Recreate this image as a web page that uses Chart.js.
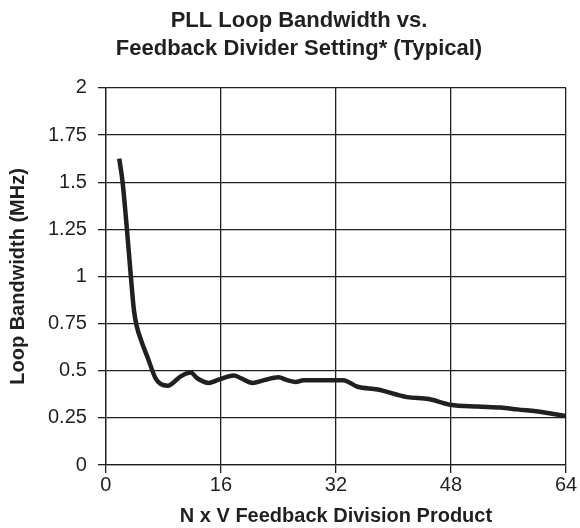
<!DOCTYPE html>
<html>
<head>
<meta charset="utf-8">
<script src="https://cdn.jsdelivr.net/npm/chart.js@4"></script>
<style>
  html, body { margin: 0; padding: 0; background: #fff; }
  #wrap { width: 580px; height: 528px; }
</style>
</head>
<body>
<div id="wrap"><canvas id="bwChart"></canvas></div>
<script>
// =========================
// DATA
// =========================
const divProduct = [1.85, 2.32, 2.92, 3.47, 3.9, 4.26, 5.0, 5.8, 6.9, 7.6, 8.6, 10.4, 11.8, 12.7, 14.3, 15.5, 17.8, 18.8, 20.4, 22, 24, 25.2, 26.4, 27.5, 30, 33, 35, 37.8, 41.9, 44.9, 47.9, 51.7, 54.9, 57.2, 60.8, 64];
const bandwidthMHz = [1.625, 1.5, 1.25, 1.0, 0.82, 0.74, 0.65, 0.57, 0.46, 0.43, 0.42, 0.47, 0.49, 0.46, 0.435, 0.45, 0.475, 0.46, 0.435, 0.45, 0.465, 0.45, 0.44, 0.45, 0.45, 0.45, 0.415, 0.4, 0.36, 0.35, 0.32, 0.31, 0.305, 0.295, 0.28, 0.26];
const xTicks = [0, 16, 32, 48, 64];
const yTicks = [0, 0.25, 0.5, 0.75, 1, 1.25, 1.5, 1.75, 2];

const ink = "#231f20";
const fontFam = "'Liberation Sans', Arial, Helvetica, sans-serif";

// nudge the title a bit right, like the original sheet
const titleShift = {
  id: "titleShift",
  afterLayout(chart) {
    if (chart.titleBlock) chart.titleBlock.left += 32;
  }
};

// =========================
// RENDER CHART
// =========================
const points = divProduct.map((x, i) => ({ x: x, y: bandwidthMHz[i] }));

new Chart(document.getElementById("bwChart"), {
  type: "line",
  data: {
    datasets: [{
      data: points,
      borderColor: ink,
      borderWidth: 4.5,
      pointRadius: 0,
      fill: false,
      cubicInterpolationMode: "monotone"
    }]
  },
  options: {
    responsive: true,
    maintainAspectRatio: false,
    animation: false,
    layout: { padding: { left: 0, right: 14, top: 0, bottom: 0 } },
    plugins: {
      legend: { display: false },
      tooltip: { enabled: false },
      title: {
        display: true,
        text: ["PLL Loop Bandwidth vs.", "Feedback Divider Setting* (Typical)"],
        color: ink,
        font: { family: fontFam, size: 22, weight: "bold", lineHeight: 1.27 },
        padding: { top: 7, bottom: 25 }
      }
    },
    scales: {
      x: {
        type: "linear",
        min: 0,
        max: 64,
        afterBuildTicks: axis => { axis.ticks = xTicks.map(v => ({ value: v })); },
        grid: { color: ink, lineWidth: 1.3, tickLength: 8 },
        border: { color: ink, width: 1.3 },
        ticks: { color: ink, font: { family: fontFam, size: 20 }, padding: 0, maxRotation: 0 },
        title: {
          display: true,
          text: "N x V Feedback Division Product",
          color: ink,
          font: { family: fontFam, size: 20, weight: "bold" },
          padding: { top: 7, bottom: 0 }
        }
      },
      y: {
        min: 0,
        max: 2,
        afterBuildTicks: axis => { axis.ticks = yTicks.map(v => ({ value: v })); },
        grid: { color: ink, lineWidth: 1.3, tickLength: 8 },
        border: { color: ink, width: 1.3 },
        ticks: { color: ink, font: { family: fontFam, size: 20 }, padding: 11, callback: v => String(v) },
        title: {
          display: true,
          text: "Loop Bandwidth (MHz)",
          color: ink,
          font: { family: fontFam, size: 20, weight: "bold" },
          padding: { top: 6, bottom: 7 }
        }
      }
    }
  },
  plugins: [titleShift]
});
</script>
</body>
</html>
